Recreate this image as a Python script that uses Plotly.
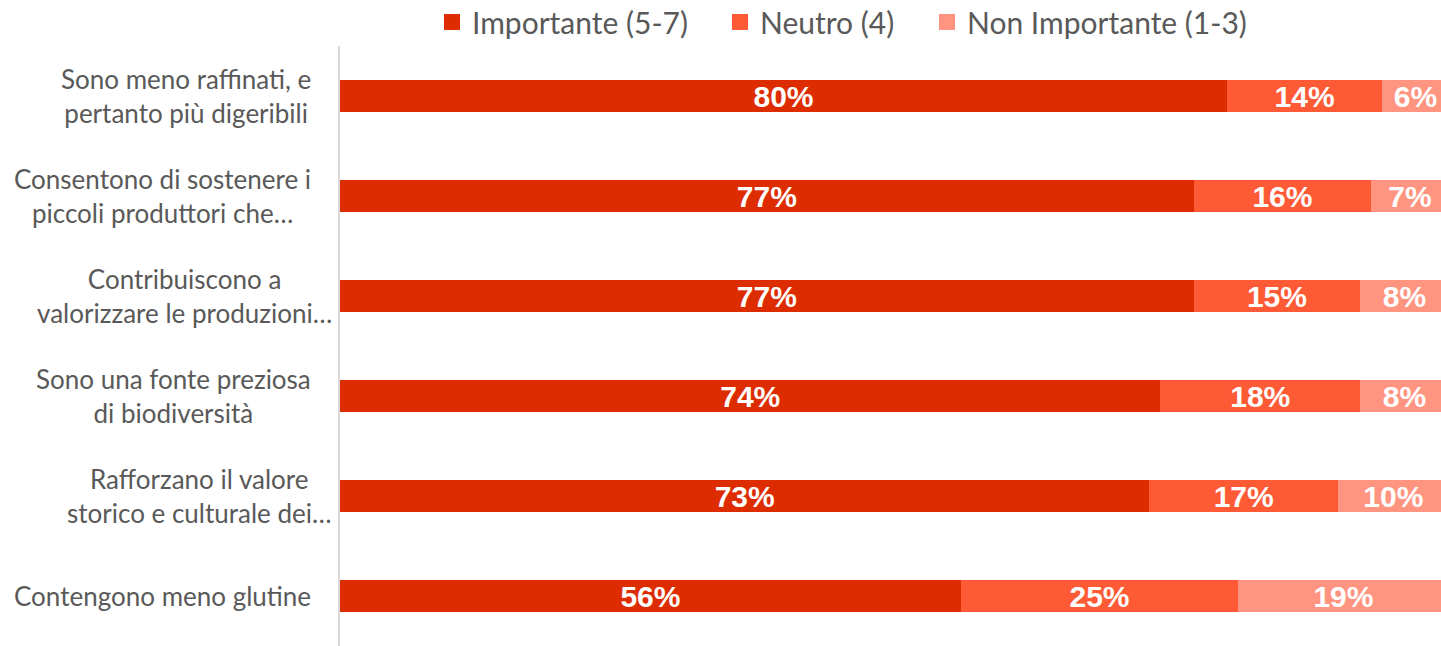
import plotly.graph_objects as go

categories = [
    "Sono meno raffinati, e<br>pertanto più digeribili",
    "Consentono di sostenere i<br>piccoli produttori che…",
    "Contribuiscono a<br>valorizzare le produzioni…",
    "Sono una fonte preziosa<br>di biodiversità",
    "Rafforzano il valore<br>storico e culturale dei…",
    "Contengono meno glutine",
]
importante = [80, 77, 77, 74, 73, 56]
neutro = [14, 16, 15, 18, 17, 25]
non_importante = [6, 7, 8, 8, 10, 19]

series = [
    ("Importante (5-7)", importante, "#DD2C00"),
    ("Neutro (4)", neutro, "#FF5A36"),
    ("Non Importante (1-3)", non_importante, "#FF9580"),
]

LABEL_FONT = "Lato, Open Sans, sans-serif"
W, H = 1441, 646

legend_names = ["legend", "legend2", "legend3"]
legend_x = [432, 720, 927]  # left edge of each legend entry, figure px

fig = go.Figure()
for name, vals, color in series:
    fig.add_trace(go.Bar(
        y=categories, x=vals, name=name, orientation="h",
        marker=dict(color=color, line=dict(width=0)),
        text=[f"{v}%" for v in vals], textposition="inside",
        insidetextanchor="middle", constraintext="none",
        textfont=dict(family="Liberation Sans, Arial", size=30, color="white", weight="bold"),
        showlegend=False,
    ))
# legend entries (square swatches), one legend per entry for free placement
for (name, vals, color), lg in zip(series, legend_names):
    fig.add_trace(go.Scatter(
        x=[None], y=[None], mode="markers", name=name, legend=lg,
        marker=dict(symbol="square", size=18, color=color),
        showlegend=True,
    ))

# category labels, centred multi-line like the original
for cat in categories:
    lines = cat.split("<br>")
    trailing_ellipsis = lines[-1].endswith("…") and len(lines[-1]) == max(len(l) for l in lines)
    fig.add_annotation(
        x=0, xref="paper", y=cat, yref="y", xanchor="right", yanchor="middle",
        xshift=-6 if trailing_ellipsis else -27, text=cat, showarrow=False, align="center",
        font=dict(family=LABEL_FONT, size=26, color="#595959"),
    )

legend_style = dict(orientation="h", xref="container", yref="container",
                    xanchor="left", y=0.966, yanchor="middle",
                    font=dict(family=LABEL_FONT, size=30, color="#595959"),
                    itemwidth=30, bgcolor="rgba(0,0,0,0)")
layout_legends = {lg: dict(legend_style, x=lx / W) for lg, lx in zip(legend_names, legend_x)}

fig.update_layout(
    barmode="stack",
    width=W, height=H,
    margin=dict(l=340, r=0, t=46, b=0, autoexpand=False),
    paper_bgcolor="white", plot_bgcolor="white",
    bargap=0.68,
    showlegend=True,
    **layout_legends,
)
fig.update_xaxes(range=[0, 99.3], showgrid=False, showticklabels=False, zeroline=False,
                 showline=False, automargin=False)
fig.update_yaxes(range=[5.5, -0.5], showline=True, linecolor="#D9D9D9", linewidth=2,
                 ticks="", showticklabels=False, automargin=False, showgrid=False)

fig.write_html("out.html", config={"displayModeBar": False},
               post_script="document.body.style.margin='0';document.body.style.overflow='hidden';")
